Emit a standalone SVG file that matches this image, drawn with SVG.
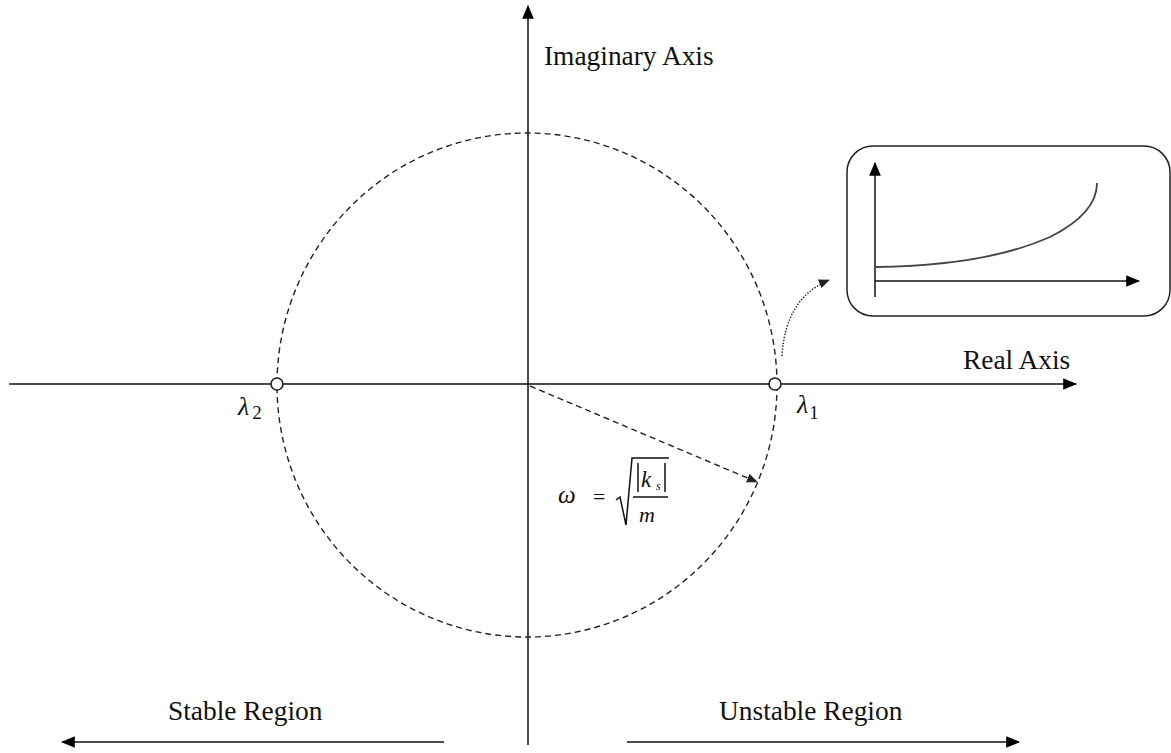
<svg xmlns="http://www.w3.org/2000/svg" width="1171" height="753" viewBox="0 0 1171 753">
  <style>
    .lbl { font-family: "Liberation Serif", "Times New Roman", serif; font-size: 27.4px; fill: #111; }
    .math { font-family: "Liberation Serif", "Times New Roman", serif; font-style: italic; fill: #111; }
    .axis { stroke: #111; stroke-width: 1.5; fill: none; }
    .dash { stroke: #222; stroke-width: 1.4; fill: none; stroke-dasharray: 6 4; }
    .dot { stroke: #333; stroke-width: 1.5; fill: none; stroke-dasharray: 1.5 1.5; }
    .pole { fill: #fff; stroke: #222; stroke-width: 1.6; }
  </style>
  <defs>
    <marker id="ah" markerUnits="userSpaceOnUse" viewBox="0 0 12 10" markerWidth="14" markerHeight="12" refX="11" refY="5" orient="auto">
      <path d="M0,0 L12,5 L0,10 z" fill="#000"/>
    </marker>
    <marker id="ahs" markerUnits="userSpaceOnUse" viewBox="0 0 12 10" markerWidth="11" markerHeight="10" refX="11" refY="5" orient="auto">
      <path d="M0,0 L12,5 L0,10 z" fill="#222"/>
    </marker>
  </defs>
  <rect width="1171" height="753" fill="#fff"/>

  <g id="connectors">
    <line class="axis" x1="9" y1="384" x2="1076" y2="384" marker-end="url(#ah)"/>
    <line class="axis" x1="528" y1="745" x2="528" y2="6" marker-end="url(#ah)"/>
    <line class="axis" x1="444" y1="742" x2="62" y2="742" marker-end="url(#ah)"/>
    <line class="axis" x1="627" y1="742" x2="1019" y2="742" marker-end="url(#ah)"/>
    <line class="dash" x1="530" y1="386" x2="757" y2="482" marker-end="url(#ahs)"/>
    <path class="dot" d="M782,356 C784,318 800,292 829,280" marker-end="url(#ahs)"/>
  </g>

  <g id="circle">
    <ellipse class="dash" cx="527" cy="385" rx="250" ry="252"/>
  </g>

  <g id="lambda2">
    <circle class="pole" cx="277" cy="384" r="6"/>
    <text class="math" x="238" y="415" font-size="26">λ<tspan font-style="normal" font-size="19" dx="3" dy="4">2</tspan></text>
  </g>
  <g id="lambda1">
    <circle class="pole" cx="775" cy="384" r="6"/>
    <text class="math" x="797" y="413" font-size="26">λ<tspan font-style="normal" font-size="19" dx="1" dy="6">1</tspan></text>
  </g>

  <g id="imag-label"><text class="lbl" x="544" y="65">Imaginary Axis</text></g>
  <g id="real-label"><text class="lbl" x="963" y="369">Real Axis</text></g>
  <g id="stable-label"><text class="lbl" x="168" y="720">Stable Region</text></g>
  <g id="unstable-label"><text class="lbl" x="719" y="720">Unstable Region</text></g>

  <g id="formula">
    <text class="math" x="558" y="503" font-size="25">ω</text>
    <text x="593" y="504" font-family="Liberation Serif, serif" font-size="22" fill="#111">=</text>
    <path d="M616,500 L620,497 L626,525 L632,458 L669,458" fill="none" stroke="#111" stroke-width="1.5"/>
    <line x1="638" y1="463" x2="638" y2="492" stroke="#111" stroke-width="1.5"/>
    <line x1="665" y1="463" x2="665" y2="492" stroke="#111" stroke-width="1.5"/>
    <text class="math" x="641" y="487" font-size="23">k</text>
    <text class="math" x="656" y="490" font-size="12">s</text>
    <line x1="633" y1="497" x2="668" y2="497" stroke="#111" stroke-width="1.5"/>
    <text class="math" x="639" y="522" font-size="22">m</text>
  </g>

  <g id="inset">
    <rect x="847" y="146" width="323" height="170" rx="26" fill="#fff" stroke="#222" stroke-width="1.5"/>
    <line class="axis" x1="875" y1="297" x2="875" y2="163" marker-end="url(#ah)"/>
    <line class="axis" x1="875" y1="281" x2="1139" y2="281" marker-end="url(#ah)"/>
    <path d="M876,267 C950,266 1010,255 1050,237 C1080,222 1097,205 1097,183" fill="none" stroke="#444" stroke-width="1.8"/>
  </g>
</svg>
